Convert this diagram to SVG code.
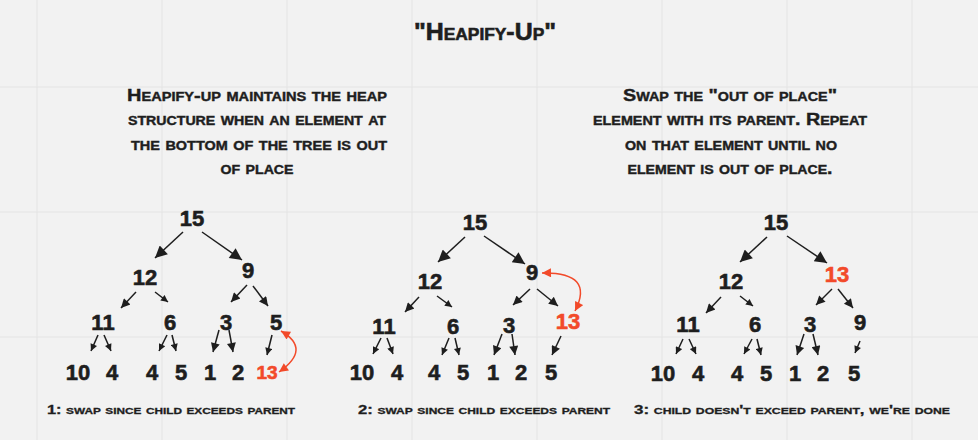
<svg xmlns="http://www.w3.org/2000/svg" width="978" height="440" viewBox="0 0 978 440">
<style>
.bg{fill:#f2f2f2}
.grid line{stroke:#e4e4e4;stroke-width:1}
.txt{font-family:"Liberation Sans",Arial,sans-serif;font-weight:bold;font-variant:small-caps;fill:#1e1e1e;stroke:#1e1e1e;stroke-width:0.4;text-anchor:middle}
.title{font-size:23px;stroke-width:0.6}
.para{font-size:16.5px}
.cap{font-size:12.5px;stroke-width:0.3}
.num{font-family:"Liberation Sans",Arial,sans-serif;font-weight:bold;font-size:22px;fill:#1e1e1e;stroke:#1e1e1e;stroke-width:0.6;text-anchor:middle}
.red{fill:#f24a2a;stroke:#f24a2a}
.e{stroke:#1e1e1e;stroke-width:1.5;fill:none}
.e.b{marker-end:url(#hb)}
.e.m{marker-end:url(#hm)}
.e.s{marker-end:url(#hs)}
.swap{stroke:#f24a2a;stroke-width:1.5;fill:none;marker-start:url(#hr);marker-end:url(#hr)}
</style>
<defs>
<marker id="hb" viewBox="0 0 10 10" refX="10" refY="5" markerUnits="userSpaceOnUse" markerWidth="16" markerHeight="12" orient="auto"><path d="M0,0 L10,5 L0,10 z" fill="#1e1e1e"/></marker>
<marker id="hm" viewBox="0 0 10 10" refX="10" refY="5" markerUnits="userSpaceOnUse" markerWidth="12" markerHeight="9" orient="auto"><path d="M0,0 L10,5 L0,10 z" fill="#1e1e1e"/></marker>
<marker id="hs" viewBox="0 0 10 10" refX="10" refY="5" markerUnits="userSpaceOnUse" markerWidth="9" markerHeight="7" orient="auto"><path d="M0,0 L10,5 L0,10 z" fill="#1e1e1e"/></marker>
<marker id="hr" viewBox="0 0 10 10" refX="10" refY="5" markerUnits="userSpaceOnUse" markerWidth="12" markerHeight="9" orient="auto-start-reverse"><path d="M0,0 L10,5 L0,10 z" fill="#f24a2a"/></marker>
</defs>
<rect class="bg" x="0" y="0" width="978" height="440"/>
<g class="grid">
<line x1="37" y1="0" x2="37" y2="440"/><line x1="162" y1="0" x2="162" y2="440"/><line x1="287" y1="0" x2="287" y2="440"/><line x1="412" y1="0" x2="412" y2="440"/><line x1="537" y1="0" x2="537" y2="440"/><line x1="662" y1="0" x2="662" y2="440"/><line x1="787" y1="0" x2="787" y2="440"/><line x1="912" y1="0" x2="912" y2="440"/>
<line x1="0" y1="87" x2="978" y2="87"/><line x1="0" y1="212" x2="978" y2="212"/><line x1="0" y1="337" x2="978" y2="337"/>
</g>
<g id="texts">
<text class="txt title" x="485" y="40" textLength="142" lengthAdjust="spacingAndGlyphs">"Heapify-Up"</text>
<text class="txt para" x="257" y="101" textLength="260" lengthAdjust="spacingAndGlyphs">Heapify-up maintains the heap</text>
<text class="txt para" x="257" y="125" textLength="258" lengthAdjust="spacingAndGlyphs">structure when an element at</text>
<text class="txt para" x="259" y="150" textLength="256" lengthAdjust="spacingAndGlyphs">the bottom of the tree is out</text>
<text class="txt para" x="257" y="174" textLength="73" lengthAdjust="spacingAndGlyphs">of place</text>
<text class="txt para" x="730" y="101" textLength="214" lengthAdjust="spacingAndGlyphs">Swap the "out of place"</text>
<text class="txt para" x="730" y="125" textLength="274" lengthAdjust="spacingAndGlyphs">element with its parent. Repeat</text>
<text class="txt para" x="731" y="150" textLength="212" lengthAdjust="spacingAndGlyphs">on that element until no</text>
<text class="txt para" x="730" y="174" textLength="205" lengthAdjust="spacingAndGlyphs">element is out of place.</text>
<text class="txt cap" x="171" y="414" textLength="248" lengthAdjust="spacingAndGlyphs">1: swap since child exceeds parent</text>
<text class="txt cap" x="484" y="414" textLength="252" lengthAdjust="spacingAndGlyphs">2: swap since child exceeds parent</text>
<text class="txt cap" x="792" y="414" textLength="316" lengthAdjust="spacingAndGlyphs">3: child doesn't exceed parent, we're done</text>
</g>
<g id="connectors">
<line class="e b" x1="183" y1="232" x2="155" y2="258"/>
<line class="e b" x1="202" y1="232" x2="242" y2="260"/>
<line class="e m" x1="136" y1="292" x2="121" y2="308"/>
<line class="e s" x1="155" y1="292" x2="168" y2="302"/>
<line class="e m" x1="247" y1="285" x2="231" y2="302"/>
<line class="e m" x1="253" y1="286" x2="268" y2="306"/>
<line class="e s" x1="98" y1="335" x2="91" y2="351"/>
<line class="e s" x1="104" y1="335" x2="111" y2="351"/>
<line class="e s" x1="167" y1="335" x2="159" y2="351"/>
<line class="e s" x1="172" y1="335" x2="176" y2="351"/>
<line class="e m" x1="219" y1="330" x2="213" y2="352"/>
<line class="e m" x1="229" y1="330" x2="233" y2="352"/>
<line class="e s" x1="272" y1="335" x2="267" y2="355"/>
<path class="swap" d="M281,331 Q312,349 279,372"/>
<line class="e b" x1="465" y1="237" x2="438" y2="262"/>
<line class="e b" x1="484" y1="236" x2="525" y2="264"/>
<line class="e m" x1="419" y1="297" x2="405" y2="312"/>
<line class="e s" x1="437" y1="296" x2="452" y2="307"/>
<line class="e m" x1="530" y1="289" x2="513" y2="305"/>
<line class="e m" x1="537" y1="289" x2="558" y2="306"/>
<line class="e s" x1="381" y1="338" x2="373" y2="354"/>
<line class="e s" x1="387" y1="338" x2="393" y2="354"/>
<line class="e s" x1="449" y1="338" x2="442" y2="355"/>
<line class="e s" x1="455" y1="338" x2="459" y2="355"/>
<line class="e m" x1="502" y1="334" x2="494" y2="355"/>
<line class="e m" x1="512" y1="334" x2="515" y2="355"/>
<line class="e m" x1="561" y1="336" x2="552" y2="355"/>
<path class="swap" d="M542,273 Q595,272 575,311"/>
<line class="e b" x1="767" y1="237" x2="740" y2="262"/>
<line class="e b" x1="787" y1="236" x2="827" y2="263"/>
<line class="e m" x1="721" y1="297" x2="706" y2="313"/>
<line class="e s" x1="740" y1="296" x2="753" y2="306"/>
<line class="e m" x1="832" y1="289" x2="816" y2="305"/>
<line class="e m" x1="838" y1="289" x2="853" y2="308"/>
<line class="e s" x1="683" y1="339" x2="676" y2="354"/>
<line class="e s" x1="689" y1="339" x2="696" y2="354"/>
<line class="e s" x1="752" y1="339" x2="744" y2="354"/>
<line class="e s" x1="757" y1="339" x2="761" y2="355"/>
<line class="e m" x1="804" y1="334" x2="797" y2="355"/>
<line class="e m" x1="813" y1="334" x2="818" y2="355"/>
<line class="e s" x1="860" y1="341" x2="855" y2="353"/>
</g>
<g id="tree1">
<g id="t1-n15"><text class="num" x="192" y="226">15</text></g>
<g id="t1-n12"><text class="num" x="145" y="285">12</text></g>
<g id="t1-n9"><text class="num" x="248" y="278">9</text></g>
<g id="t1-n11"><text class="num" x="103" y="330">11</text></g>
<g id="t1-n6"><text class="num" x="170" y="330">6</text></g>
<g id="t1-n3"><text class="num" x="226" y="330">3</text></g>
<g id="t1-n5"><text class="num" x="276" y="330">5</text></g>
<g id="t1-n10"><text class="num" x="78" y="380">10</text></g>
<g id="t1-n4a"><text class="num" x="112" y="380">4</text></g>
<g id="t1-n4b"><text class="num" x="152" y="380">4</text></g>
<g id="t1-n5b"><text class="num" x="181" y="380">5</text></g>
<g id="t1-n1"><text class="num" x="210" y="380">1</text></g>
<g id="t1-n2"><text class="num" x="238" y="380">2</text></g>
<g id="t1-n13"><text class="num red" x="267" y="379" style="font-size:19px">13</text></g>
</g>
<g id="tree2">
<g id="t2-n15"><text class="num" x="475" y="230">15</text></g>
<g id="t2-n12"><text class="num" x="430" y="289">12</text></g>
<g id="t2-n9"><text class="num" x="532" y="280">9</text></g>
<g id="t2-n11"><text class="num" x="384" y="334">11</text></g>
<g id="t2-n6"><text class="num" x="453" y="334">6</text></g>
<g id="t2-n3"><text class="num" x="509" y="333">3</text></g>
<g id="t2-n13"><text class="num red" x="568" y="329">13</text></g>
<g id="t2-n10"><text class="num" x="362" y="380">10</text></g>
<g id="t2-n4a"><text class="num" x="397" y="380">4</text></g>
<g id="t2-n4b"><text class="num" x="434" y="380">4</text></g>
<g id="t2-n5a"><text class="num" x="463" y="380">5</text></g>
<g id="t2-n1"><text class="num" x="493" y="380">1</text></g>
<g id="t2-n2"><text class="num" x="521" y="380">2</text></g>
<g id="t2-n5b"><text class="num" x="551" y="380">5</text></g>
</g>
<g id="tree3">
<g id="t3-n15"><text class="num" x="776" y="230">15</text></g>
<g id="t3-n12"><text class="num" x="731" y="289">12</text></g>
<g id="t3-n13"><text class="num red" x="837" y="282">13</text></g>
<g id="t3-n11"><text class="num" x="688" y="332">11</text></g>
<g id="t3-n6"><text class="num" x="755" y="332">6</text></g>
<g id="t3-n3"><text class="num" x="810" y="332">3</text></g>
<g id="t3-n9"><text class="num" x="860" y="330">9</text></g>
<g id="t3-n10"><text class="num" x="663" y="381">10</text></g>
<g id="t3-n4a"><text class="num" x="698" y="381">4</text></g>
<g id="t3-n4b"><text class="num" x="737" y="381">4</text></g>
<g id="t3-n5a"><text class="num" x="766" y="381">5</text></g>
<g id="t3-n1"><text class="num" x="795" y="381">1</text></g>
<g id="t3-n2"><text class="num" x="823" y="381">2</text></g>
<g id="t3-n5b"><text class="num" x="854" y="381">5</text></g>
</g>
</svg>
